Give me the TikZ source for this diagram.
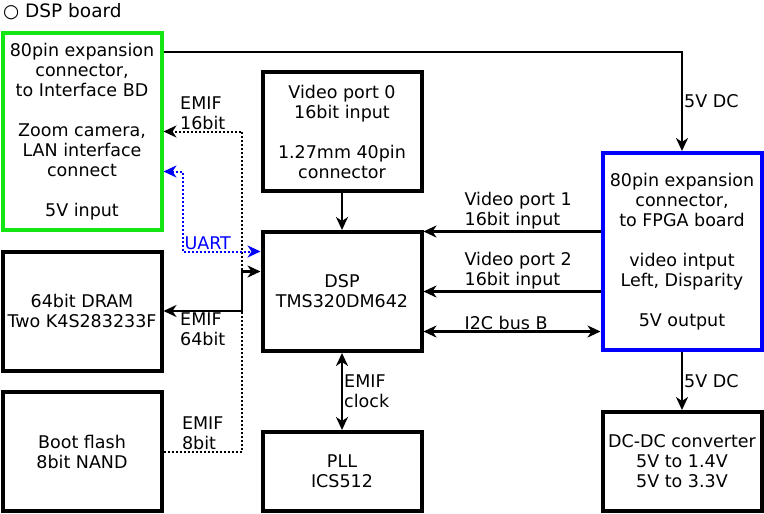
\documentclass[tikz,border=0pt]{standalone}
\usepackage{fontspec}
\setmainfont{DejaVu Sans}
\usepackage{tikz}
\usetikzlibrary{arrows.meta}
\definecolor{ifgreen}{RGB}{20,230,20}
\tikzstyle{block} = [rectangle, minimum width=159pt, minimum height=119pt, text centered, align=center, draw=black, line width=4pt]
\tikzstyle{block_if} = [block, draw=ifgreen, minimum height=197pt]
\tikzstyle{block_fpga} = [block, draw=blue, minimum height=197pt]
\tikzstyle{arrow} = [line width=2.4pt,->,>={Stealth[length=13pt,width=12pt,inset=4pt]}]
\tikzstyle{bus_dot} = [arrow, line width=2pt, dotted]
\tikzstyle{bus_uart} = [arrow, line width=2pt, dotted, blue, <->]
\tikzstyle{lbl} = [align=left, inner sep=1pt]

\begin{document}
\begin{tikzpicture}[x=1pt, y=1pt, node distance=160pt, font=\fontsize{17.5}{20}\selectfont]
    \useasboundingbox (0,0) rectangle (764,-514);
    \node (title) [anchor=west, inner sep=0pt, font=\fontsize{18.5}{22}\selectfont] at (3,-12) {○ DSP board};
    \node (dsp) [block] at (342,-291.5) {DSP\\TMS320DM642};
    \node (vport0) [block, above of=dsp] {Video port 0\\16bit input\\[20pt]1.27mm 40pin\\connector};
    \node (pll) [block, below of=dsp, yshift=-20pt, minimum height=79pt] {PLL\\ICS512};
    \node (dram) [block, left of=dsp, xshift=-100pt, yshift=-19.5pt] {64bit DRAM\\Two K4S283233F};
    \node (flash) [block, below of=dram, yshift=19.5pt] {Boot flash\\8bit NAND};
    \node (iface) [block_if, left of=vport0, xshift=-100pt] {80pin expansion\\connector,\\to Interface BD\\[20pt]Zoom camera,\\LAN interface\\connect\\[20pt]5V input};
    \node (fpga) [block_fpga, right of=dsp, xshift=180pt, yshift=40pt] {80pin expansion\\connector,\\to FPGA board\\[20pt]video intput\\Left, Disparity\\[20pt]5V output};
    \node (dcdc) [block, below of=fpga, yshift=-50pt, minimum height=99pt] {DC-DC converter\\5V to 1.4V\\5V to 3.3V};
    \draw [arrow] ([yshift=79.5pt]iface.east) -| node[lbl, pos=0.75, right] {5V DC} (fpga.north);
    \draw [arrow] (vport0) -- (dsp);
    \draw [bus_dot] (flash.east) -- node[lbl, midway, above] {EMIF\\8bit} ++(78.5,0) |- node[lbl, pos=0.75, above] {EMIF\\16bit} (iface.east);
    \draw [bus_uart] ([yshift=-40pt]iface.east) -- ++(19,0) |- node[lbl, pos=0.5, anchor=south west] {UART} ([yshift=40pt]dsp.west);
    \draw [arrow, <->] (dram.east) -- node[lbl, midway, below] {EMIF\\64bit} ++(78.5,0) |- ([yshift=20pt]dsp.west);
    \draw [arrow] ([yshift=20pt]fpga.west) -- node[lbl, pos=0.78, anchor=south west] {Video port 1\\16bit input} ([yshift=60pt]dsp.east);
    \draw [arrow] ([yshift=-40pt]fpga.west) -- node[lbl, pos=0.78, anchor=south west] {Video port 2\\16bit input} (dsp.east);
    \draw [arrow, <->] ([yshift=-80pt]fpga.west) -- node[lbl, pos=0.78, anchor=south west] {I2C bus B} ([yshift=-40pt]dsp.east);
    \draw [arrow, <->] (dsp) -- node[lbl, midway, right] {EMIF\\clock} (pll);
    \draw [arrow] (fpga) -- node[lbl, midway, right] {5V DC} (dcdc);
\end{tikzpicture}
\end{document}
